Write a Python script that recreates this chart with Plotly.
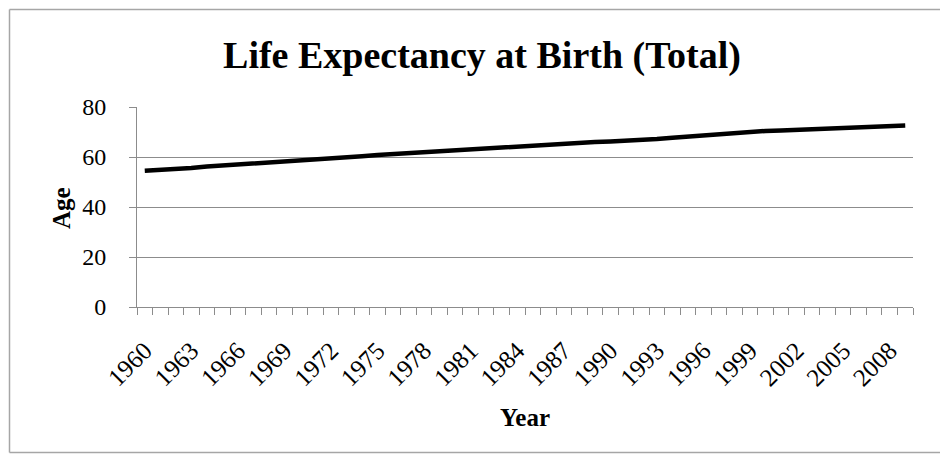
import plotly.graph_objects as go

years = list(range(1960, 2010))
life_expectancy = [
    54.5, 54.8, 55.0, 55.6, 56.2, 56.6, 56.9, 57.2, 57.6, 58.0,
    58.3, 58.8, 59.3, 59.8, 60.3, 60.8, 61.2, 61.6, 62.0, 62.3,
    62.7, 63.2, 63.6, 64.0, 64.3, 64.6, 64.9, 65.3, 65.7, 66.0,
    66.2, 66.4, 66.8, 67.2, 67.7, 68.2, 68.6, 69.2, 69.7, 70.1,
    70.4, 70.6, 70.9, 71.1, 71.3, 71.6, 71.9, 72.2, 72.5, 72.6,
]
tick_years = years[::3]
y_ticks = [0, 20, 40, 60, 80]

title_text = "Life Expectancy at Birth (Total)"
x_title = "Year"
y_title = "Age"

SERIF = "Liberation Serif, Times New Roman, serif"
GRID = "#8c8c8c"

# page has an 8px body margin on every side: keep the figure inside the window
OFF = 8
W, H = 948 - 2 * OFF, 462 - 2 * OFF
PL, PR, PT, PB = 137, 913, 107, 307  # plot area in window pixels

fig = go.Figure()
fig.add_trace(go.Scatter(
    x=years, y=life_expectancy, mode="lines",
    line=dict(color="black", width=4.5), showlegend=False,
))

fig.update_layout(
    width=W, height=H,
    margin=dict(l=PL - OFF, r=W - (PR - OFF), t=PT - OFF, b=H - (PB - OFF)),
    paper_bgcolor="white", plot_bgcolor="white",
    title=dict(text="<b>" + title_text + "</b>", x=(482 - OFF) / W, xanchor="center",
               y=1 - (55 - OFF) / H, yanchor="middle", yref="container",
               font=dict(family=SERIF, size=38, color="black")),
    font=dict(family=SERIF, color="black"),
)

fig.update_xaxes(
    range=[years[0] - 0.5, years[-1] + 0.5],
    tickmode="array", tickvals=tick_years, ticktext=[str(y) for y in tick_years],
    tickangle=-45, ticks="", showgrid=False,
    showline=True, linecolor=GRID, linewidth=1,
    tickfont=dict(family=SERIF, size=25, color="black"),
    ticklabelstandoff=18,
    minor=dict(tickmode="linear", tick0=years[0] - 0.5, dtick=1, ticks="outside",
               ticklen=7, tickcolor=GRID, tickwidth=1, showgrid=False),
    zeroline=False,
)
fig.update_yaxes(
    range=[0, 80], tickvals=y_ticks,
    showgrid=True, gridcolor=GRID, gridwidth=1,
    showline=True, linecolor=GRID, linewidth=1,
    ticks="outside", ticklen=7, tickcolor=GRID,
    tickfont=dict(family=SERIF, size=24, color="black"),
    ticklabelstandoff=18,
    zeroline=False,
)

pw, ph = PR - PL, PB - PT
fig.add_annotation(text="<b>" + x_title + "</b>", xref="paper", yref="paper",
                   x=0.5, y=(PB - 417) / ph, xanchor="center", yanchor="middle",
                   showarrow=False, font=dict(family=SERIF, size=25, color="black"))
fig.add_annotation(text="<b>" + y_title + "</b>", xref="paper", yref="paper",
                   x=(61 - PL) / pw, y=(PB - 208) / ph, xanchor="center", yanchor="middle",
                   textangle=-90, showarrow=False,
                   font=dict(family=SERIF, size=25, color="black"))

# outer chart border: left, top and bottom edges only (right edge is cut off in the reference)
bx0, bx1 = (9.5 - PL) / pw, (940 - PL) / pw
by0, by1 = (PB - 452.5) / ph, (PB - 9.5) / ph
border = dict(color="#a6a6a6", width=1.5)
for x0, y0, x1, y1 in [(bx0, by0, bx0, by1), (bx0, by1, bx1, by1), (bx0, by0, bx1, by0)]:
    fig.add_shape(type="line", xref="paper", yref="paper", x0=x0, y0=y0, x1=x1, y1=y1,
                  line=border, layer="below")

fig.write_html("out.html")
